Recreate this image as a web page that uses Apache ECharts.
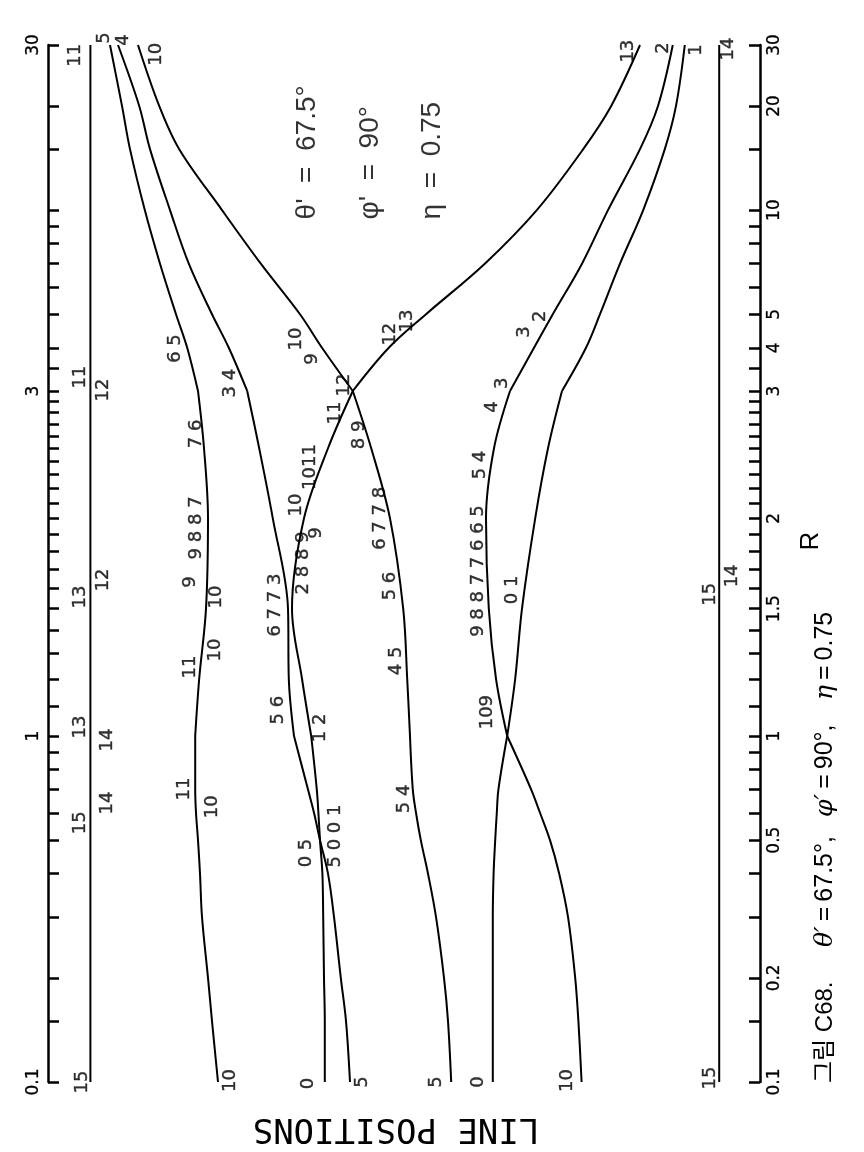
<!DOCTYPE html>
<html><head><meta charset="utf-8">
<script src="https://cdn.jsdelivr.net/npm/echarts@6/dist/echarts.min.js"></script>
<style>html,body{margin:0;padding:0;background:#fff}#c{width:864px;height:1152px}</style>
</head><body><div id="c"></div>
<script>
// ---------- data ----------
// R values at which each curve's line position was read
const R_GRID = [0.1,0.15,0.2,0.3,0.4,0.5,0.6,0.7,1,1.2,1.5,2,2.5,3,4,5,7,10,15,20,30];
// line positions (arbitrary units) of each curve at R_GRID
const curve10to5  = [21.25,20.5,20,19.25,19,18.75,18.5,18.4,18.4,18.9,19.75,20,19.5,18.75,17.4,16,14,12.1,10.25,9.25,7.75];
const curve5to4   = [37.75,37.25,36.6,35.75,35,34,33.25,32.5,30.75,30.1,30,28.1,26.4,24.9,22.6,20.5,17.6,15.25,12.75,11.4,8.75];
const curve0to13  = [34.6,34.6,34.5,34.4,34.3,34,33.8,33.6,32.9,31.75,30.5,32,35,38.1,42.6,47.25,54.6,61.1,66.9,70.4,74];
const curve5to10  = [50.4,50,49.5,48.5,47.5,46.6,46,45.6,45.25,44.9,44.4,42.75,40.4,38.1,34.25,31.5,26.6,21.75,16.4,13.9,11.25];
const curve0to1   = [55.6,55.6,55.6,55.6,55.7,55.9,56.1,56.3,57.4,58.4,59.25,60.9,62.5,64.25,67.25,69,71.5,74.4,77.1,78.5,79.6];
const curve10to2  = [66.7,66.3,65.9,65,63.9,62.75,61.5,60.4,57.4,56,55.1,54.75,55.75,57.75,60.75,63.1,66.75,70,74,76.25,78.1];
// constant lines (15/11 on the left, 15/14 on the right)
const R_ENDS = [0.1, 30];
const lineLeft  = [5.3, 5.3];
const lineRight = [83.9, 83.9];

// axis ticks and labels (R)
const TICKS_R = [0.1,0.15,0.2,0.3,0.4,0.5,0.6,0.7,0.8,0.9,1,1.1,1.2,1.3,1.4,1.5,1.6,1.7,1.8,1.9,2,2.1,2.2,2.3,2.4,2.5,2.6,2.7,2.8,2.9,3,3.5,4,5,6,7,8,9,10,15,20,30];
const LABELS_RIGHT = [0.1,0.2,0.5,1,1.5,2,3,4,5,10,20,30];
const LABELS_LEFT  = [0.1,1,3,30];

// curve annotations: [text, position, R]
const ANNOT = [
  ["11",3.4,28],["11",4,3.29],["12",6.9,3.02],["12",6.9,1.644],["13",4,1.557],["13",4,1.029],
  ["14",7.4,0.974],["14",7.4,0.64],["15",4,0.561],["15",4.25,0.1],
  ["14",85,29.2],["15",82.75,1.57],["14",85.6,1.665],["15",82.75,0.1027],
  ["5",7.1,31.4],["4",9.4,31.0],["10",13.6,28.2],["13",72.5,28.8],["2",76.9,29.4],["1",81.1,29],
  ["10",22.75,0.101],["0",32.5,0.099],["5",39.25,0.1],["5",48.6,0.1],["0",53.75,0.1],["10",64.9,0.101],
  ["6 5",15.9,3.98],["7 6",18.6,2.617],["9 8 8 7",18.6,1.94],["9",17.75,1.633],["10",21,1.557],
  ["11",17.75,1.246],["10",20.9,1.315],["11",17.1,0.703],["10",20.5,0.624],
  ["3 4",22.75,3.16],["6 7 7 3",28.4,1.517],["5 6",28.75,1.086],["0 5",32.25,0.459],["5 0 0 1",35.9,0.514],
  ["1 2",34,1.026],["2 8 8 9",31.9,1.735],["9",33.6,1.909],["10",31.1,2.087],["1011",32.75,2.355],
  ["11",35.9,2.797],["12",37.1,3.12],["12",42.75,4.38],["13",44.9,4.78],
  ["10",31.1,4.24],["9",33.1,3.71],["8 9",38.9,2.608],["6 7 7 8",41.6,2.0],["5 6",42.75,1.612],
  ["4 5",43.5,1.27],["5 4",44.6,0.658],
  ["9 8 8 7 7 6 6 5",53.75,1.691],["109",54.9,1.079],["0 1",58.1,1.592],["5 4",54,2.37],
  ["4",55.6,2.851],["3",56.75,3.16],["3",59.6,4.44],["2",61.5,4.93]
];
// parameter block: [text, position, R] (text starts at R and runs upward)
const PARAMS = [["θ'  =  67.5°",32.4,9.4],["φ'  =  90°",40.25,9.4],["η  =  0.75",48,9.4]];

// ---------- scale: log R, expanded x2.09 between R=1 and R=3 ----------
const K = 2.09, LOG3 = Math.log10(3);
function tOf(R){
  const l = Math.log10(R);
  if (R <= 1) return l;
  if (R <= 3) return K*l;
  return K*LOG3 + (l - LOG3);
}
const FONT = '"Liberation Sans","Noto Sans CJK KR",sans-serif';
const NUMFONT = '"DejaVu Sans",sans-serif';
const INK = '#000';

function curveSeries(pos){
  const segs = [[],[],[]];
  R_GRID.forEach((R,i)=>{
    const p = [pos[i], tOf(R)];
    if (R <= 1) segs[0].push(p);
    if (R >= 1 && R <= 3) segs[1].push(p);
    if (R >= 3) segs[2].push(p);
  });
  return segs.map(d=>({type:'line', data:d, smooth:0.35, symbol:'none', showSymbol:false,
    lineStyle:{color:INK, width:2}, silent:true, clip:false, z:2}));
}
function straightSeries(pos){
  return {type:'line', data:R_ENDS.map((R,i)=>[pos[i], tOf(R)]), symbol:'none', showSymbol:false,
    lineStyle:{color:INK, width:2}, silent:true, clip:false, z:2};
}
function fmt(list){
  return v => { const r = list.find(R=>Math.abs(tOf(R)-v)<1e-6); return r===undefined?'':String(r); };
}

const series = [];
[curve10to5,curve5to4,curve0to13,curve5to10,curve0to1,curve10to2].forEach(c=>series.push(...curveSeries(c)));
series.push(straightSeries(lineLeft), straightSeries(lineRight));
series.push({
  type:'scatter', symbolSize:1, itemStyle:{color:'rgba(0,0,0,0)'}, clip:false, silent:true, z:5,
  data: ANNOT.map(a=>({value:[a[1], tOf(a[2])], name:a[0]})),
  label:{show:true, position:'inside', rotate:90, formatter:'{b}', color:INK, fontSize:18, fontFamily:NUMFONT,
    textBorderColor:INK, textBorderWidth:0.4}
});
series.push({
  type:'scatter', symbolSize:1, itemStyle:{color:'rgba(0,0,0,0)'}, clip:false, silent:true, z:5,
  data: PARAMS.map(a=>({value:[a[1], tOf(a[2])], name:a[0]})),
  label:{show:true, position:'inside', rotate:90, align:'left', verticalAlign:'middle', formatter:'{b}', color:INK, fontSize:28, fontFamily:FONT}
});

function yAx(pos, labels){
  return {type:'value', position:pos, min:tOf(0.1), max:tOf(30),
    axisLine:{show:true, onZero:false, lineStyle:{color:INK, width:2.5}},
    axisTick:{show:true, inside:true, length:11, customValues:TICKS_R.map(tOf), lineStyle:{color:INK, width:2.5}},
    axisLabel:{show:true, customValues:labels.map(tOf), formatter:fmt(labels), rotate:90, margin:6,
      color:INK, fontSize:17, fontFamily:NUMFONT, textBorderColor:INK, textBorderWidth:0.3},
    splitLine:{show:false}};
}

const greek = {i:{fontStyle:'italic', fontFamily:'DejaVu Serif', fontSize:25, fill:INK}};
const chart = echarts.init(document.getElementById('c'), null, {renderer:'canvas'});
chart.setOption({
  backgroundColor:'#fff',
  animation:false,
  textStyle:{fontFamily:FONT},
  grid:{left:48, right:104, top:45, bottom:70, containLabel:false},
  xAxis:{type:'value', min:0, max:89, show:false},
  yAxis:[yAx('left', LABELS_LEFT), yAx('right', LABELS_RIGHT)],
  series: series,
  graphic:[
    {type:'text', x:811, y:541, rotation:Math.PI/2, style:{text:'R', fill:INK, font:'26px '+FONT, align:'center', verticalAlign:'middle'}},
    {type:'text', x:396, y:1128, rotation:Math.PI, style:{text:'LINE POSITIONS', fill:INK, font:'34px "DejaVu Sans Mono"', align:'center', verticalAlign:'middle'}},
    {type:'text', x:825, y:1083, rotation:Math.PI/2, style:{text:'그림 C68.', fill:INK, font:'24px '+FONT, align:'left', verticalAlign:'middle'}},
    {type:'text', x:825, y:947, rotation:Math.PI/2, style:{text:'{i|θ′}\u2009=\u200967.5°,', fill:INK, font:'25px '+FONT, align:'left', verticalAlign:'middle', rich:greek}},
    {type:'text', x:825, y:817, rotation:Math.PI/2, style:{text:'{i|φ′}\u2009=\u200990°,', fill:INK, font:'25px '+FONT, align:'left', verticalAlign:'middle', rich:greek}},
    {type:'text', x:825, y:700, rotation:Math.PI/2, style:{text:'{i|η}\u2009=\u20090.75', fill:INK, font:'25px '+FONT, align:'left', verticalAlign:'middle', rich:greek}}
  ]
});
</script></body></html>
